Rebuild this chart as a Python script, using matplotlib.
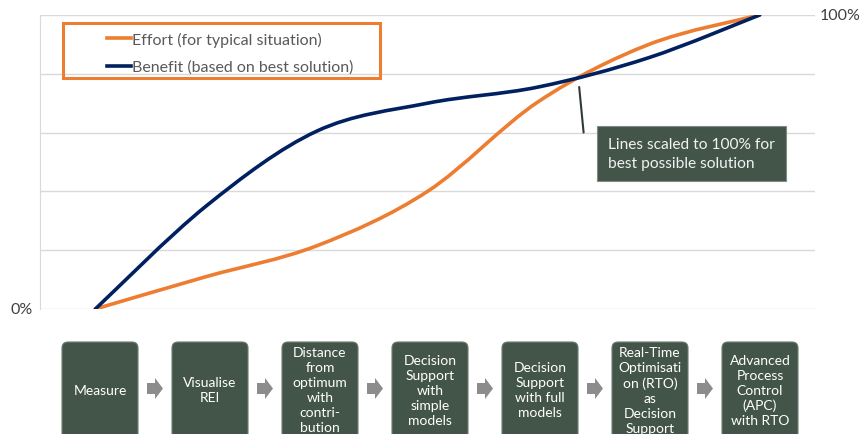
import numpy as np
import matplotlib
matplotlib.use("Agg")
import matplotlib.pyplot as plt
from matplotlib.path import Path
from matplotlib.patches import PathPatch, Rectangle, FancyBboxPatch, Polygon
from matplotlib.lines import Line2D

plt.rcParams['font.family'] = ['Lato', 'DejaVu Sans']

# Data (percent of best possible solution)
stages = ['Measure', 'Visualise\nREI', 'Distance\nfrom\noptimum\nwith\ncontri-\nbution',
          'Decision\nSupport\nwith\nsimple\nmodels', 'Decision\nSupport\nwith full\nmodels',
          'Real-Time\nOptimisati\non (RTO)\nas\nDecision\nSupport',
          'Advanced\nProcess\nControl\n(APC)\nwith RTO']
effort = [0, 11, 21.5, 40, 70.5, 90, 100]
benefit = [0, 35, 60.5, 70, 75.5, 85.5, 100]

ORANGE = '#ED7D31'
NAVY = '#002060'
GREEN = '#435549'
GREY_TXT = '#595959'


def smooth_path(xs, ys):
    # Excel-style smoothed line: cubic Bezier through the points (Catmull-Rom tangents)
    pts = np.column_stack([xs, ys]).astype(float)
    n = len(pts)
    verts = [pts[0]]
    codes = [Path.MOVETO]
    for i in range(n - 1):
        p0 = pts[max(i - 1, 0)]
        p1 = pts[i]
        p2 = pts[i + 1]
        p3 = pts[min(i + 2, n - 1)]
        c1 = p1 + (p2 - p0) / 6.0
        c2 = p2 - (p3 - p1) / 6.0
        verts += [c1, c2, p2]
        codes += [Path.CURVE4] * 3
    return Path(verts, codes)


W, H = 867, 435
fig = plt.figure(figsize=(W / 100, H / 100), dpi=100)

# main chart area
ax = fig.add_axes([40 / W, 1 - 310 / H, 775 / W, 294 / H])
x = np.arange(len(stages))
ax.set_xlim(-0.5, len(stages) - 0.5)
ax.set_ylim(0, 100)
ax.set_yticks(np.arange(0, 101, 20))
ax.set_xticks([])
ax.tick_params(left=False, labelleft=False)
ax.grid(axis='y', color='#d9d9d9', lw=1)
ax.set_axisbelow(True)
for s in ['top', 'right', 'bottom']:
    ax.spines[s].set_visible(False)
ax.spines['left'].set_color('#d9d9d9')

ax.add_patch(PathPatch(smooth_path(x, effort), fill=False, ec=ORANGE, lw=2.6,
                       capstyle='round', zorder=3))
ax.add_patch(PathPatch(smooth_path(x, benefit), fill=False, ec=NAVY, lw=2.6,
                       capstyle='round', zorder=4))

ax.text(-0.009, 0, '0%', transform=ax.get_yaxis_transform(), ha='right', va='center',
        fontsize=11.5, color='#404040')
ax.text(1.006, 100, '100%', transform=ax.get_yaxis_transform(), ha='left', va='center',
        fontsize=11.5, color='#404040')

# callout
ax.annotate('', xy=(4.37, 75.5), xytext=(4.41, 60),
            arrowprops=dict(arrowstyle='-', color='#2f3b33', lw=1.5, shrinkA=0, shrinkB=0))
ax.text(4.63, 53.0, 'Lines scaled to 100% for\nbest possible solution', fontsize=11.2,
        color='#f2f2f2', ha='left', va='center', linespacing=1.45,
        bbox=dict(boxstyle='square,pad=0.72', fc=GREEN, ec='#7f8c84', lw=0.8))

# legend
handles = [Line2D([], [], color=ORANGE, lw=2.6), Line2D([], [], color=NAVY, lw=2.6)]
leg = ax.legend(handles, ['Effort (for typical situation)', 'Benefit (based on best solution)'],
                loc='upper left', bbox_to_anchor=(99 / W, 1 - 25 / H),
                bbox_transform=fig.transFigure, frameon=False, borderpad=0,
                handlelength=1.5, handletextpad=0.08, labelspacing=0.8, fontsize=11.5)
for t in leg.get_texts():
    t.set_color(GREY_TXT)

# overlay in pixel coordinates for the legend frame and the process boxes
ov = fig.add_axes([0, 0, 1, 1], facecolor='none')
ov.set_xlim(0, W)
ov.set_ylim(H, 0)
ov.axis('off')
ov.add_patch(Rectangle((63, 24), 317, 55, fill=False, ec=ORANGE, lw=2.2, zorder=5))

box_w, box_top, box_h = 76, 343, 98
for i, label in enumerate(stages):
    cx = 100 + 110 * i
    ov.add_patch(FancyBboxPatch((cx - box_w / 2, box_top), box_w, box_h,
                                boxstyle='round,pad=0,rounding_size=6',
                                fc=GREEN, ec='#6f7d74', lw=0.8))
    ov.text(cx, 391, label, ha='center', va='center', color='white', fontsize=10,
            linespacing=1.3)
    if i < len(stages) - 1:
        ax0 = cx + 47
        ov.add_patch(Polygon([(ax0, 384), (ax0 + 8, 384), (ax0 + 8, 379), (ax0 + 16, 389.5),
                              (ax0 + 8, 400), (ax0 + 8, 395), (ax0, 395)],
                             closed=True, fc='#8c8c8c', ec='none'))

fig.savefig('out.png', dpi=100)
